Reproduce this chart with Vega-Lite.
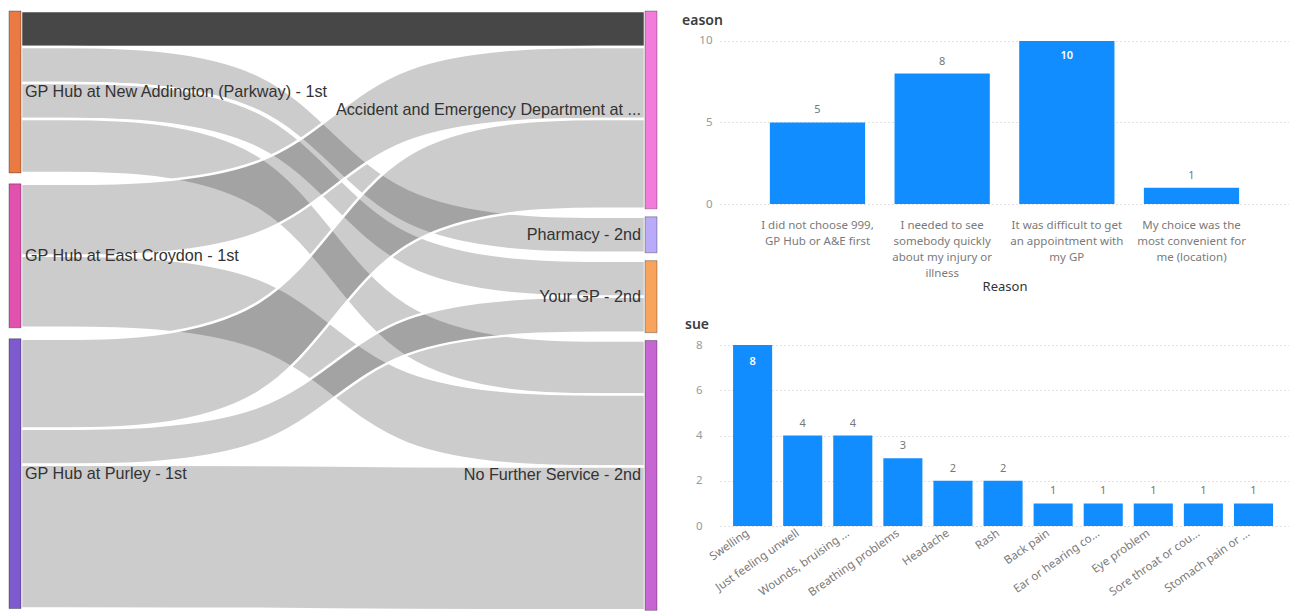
{
  "$schema": "https://vega.github.io/schema/vega-lite/v6.json",
  "padding": {"left": 8, "top": 6, "right": 0, "bottom": 0},
  "background": "white",
  "config": {"view": {"stroke": null}, "font": "Noto Sans"},
  "datasets": {
    "links": [
      {"kind": "link", "source": "GP Hub at New Addington (Parkway) - 1st", "target": "Accident and Emergency Department at ...", "value": 2, "sr": 1, "tr": 1},
      {"kind": "link", "source": "GP Hub at New Addington (Parkway) - 1st", "target": "Pharmacy - 2nd", "value": 2, "sr": 1, "tr": 2},
      {"kind": "link", "source": "GP Hub at New Addington (Parkway) - 1st", "target": "Your GP - 2nd", "value": 2, "sr": 1, "tr": 3},
      {"kind": "link", "source": "GP Hub at New Addington (Parkway) - 1st", "target": "No Further Service - 2nd", "value": 3, "sr": 1, "tr": 4},
      {"kind": "link", "source": "GP Hub at East Croydon - 1st", "target": "Accident and Emergency Department at ...", "value": 4, "sr": 2, "tr": 1},
      {"kind": "link", "source": "GP Hub at East Croydon - 1st", "target": "No Further Service - 2nd", "value": 4, "sr": 2, "tr": 4},
      {"kind": "link", "source": "GP Hub at Purley - 1st", "target": "Accident and Emergency Department at ...", "value": 5, "sr": 3, "tr": 1},
      {"kind": "link", "source": "GP Hub at Purley - 1st", "target": "Your GP - 2nd", "value": 2, "sr": 3, "tr": 3},
      {"kind": "link", "source": "GP Hub at Purley - 1st", "target": "No Further Service - 2nd", "value": 8, "sr": 3, "tr": 4},
      {"kind": "spacer", "source": "", "target": "", "value": 0.61, "sr": 1.5, "tr": 9},
      {"kind": "spacer", "source": "", "target": "", "value": 0.61, "sr": 2.5, "tr": 9},
      {"kind": "spacer", "source": "", "target": "", "value": 0.44, "sr": 9, "tr": 1.5},
      {"kind": "spacer", "source": "", "target": "", "value": 0.44, "sr": 9, "tr": 2.5},
      {"kind": "spacer", "source": "", "target": "", "value": 0.44, "sr": 9, "tr": 3.5}
    ],
    "reasons": [
      {"reason": "I did not choose 999, GP Hub or A&E first", "count": 5},
      {"reason": "I needed to see somebody quickly about my injury or illness", "count": 8},
      {"reason": "It was difficult to get an appointment with my GP", "count": 10},
      {"reason": "My choice was the most convenient for me (location)", "count": 1}
    ],
    "issues": [
      {"issue": "Swelling", "count": 8},
      {"issue": "Just feeling unwell", "count": 4},
      {"issue": "Wounds, bruising ...", "count": 4},
      {"issue": "Breathing problems", "count": 3},
      {"issue": "Headache", "count": 2},
      {"issue": "Rash", "count": 2},
      {"issue": "Back pain", "count": 1},
      {"issue": "Ear or hearing co...", "count": 1},
      {"issue": "Eye problem", "count": 1},
      {"issue": "Sore throat or cou...", "count": 1},
      {"issue": "Stomach pain or ...", "count": 1}
    ]
  },
  "spacing": 24,
  "hconcat": [
    {
      "width": 624,
      "height": 599,
      "data": {"name": "links"},
      "transform": [
        {"stack": "value", "groupby": [], "sort": [{"field": "sr"}, {"field": "tr"}], "as": ["a0", "a1"]},
        {"stack": "value", "groupby": [], "sort": [{"field": "sr"}, {"field": "tr"}], "as": ["b0", "b1"]},
        {"stack": "value", "groupby": [], "sort": [{"field": "tr"}, {"field": "sr"}], "as": ["c0", "c1"]},
        {"stack": "value", "groupby": [], "sort": [{"field": "tr"}, {"field": "sr"}], "as": ["d0", "d1"]},
        {"filter": {"field": "kind", "equal": "link"}}
      ],
      "layer": [
        {
          "transform": [
            {"fold": ["a0", "b0", "c0", "d0"], "as": ["pt", "top"]},
            {"fold": ["top", "value"], "as": ["part", "amt"]},
            {"joinaggregate": [{"op": "sum", "field": "amt", "as": "bottom"}], "groupby": ["source", "target", "pt"]},
            {"filter": {"field": "part", "equal": "top"}}
          ],
          "mark": {"type": "area", "interpolate": "basis", "stroke": "white", "strokeWidth": 2.5},
          "encoding": {
            "x": {"field": "pt", "type": "ordinal", "scale": {"type": "point", "domain": ["a0", "p1", "p2", "b0", "c0", "p3", "p4", "d0"], "padding": 0}, "axis": null},
            "y": {"field": "top", "type": "quantitative", "stack": null, "scale": {"domain": [0, 33.3], "reverse": true, "nice": false, "zero": false}, "axis": null},
            "y2": {"field": "bottom"},
            "detail": [{"field": "source"}, {"field": "target"}],
            "fill": {"condition": {"test": "datum.source === 'GP Hub at New Addington (Parkway) - 1st' && datum.target === 'Accident and Emergency Department at ...'", "value": "#474747"}, "value": "#000000"},
            "fillOpacity": {"condition": {"test": "datum.source === 'GP Hub at New Addington (Parkway) - 1st' && datum.target === 'Accident and Emergency Department at ...'", "value": 1}, "value": 0.2}
          }
        },
        {
          "transform": [
            {"aggregate": [{"op": "min", "field": "a0", "as": "y0"}, {"op": "max", "field": "a1", "as": "y1"}], "groupby": ["source"]}
          ],
          "mark": {"type": "rect", "width": 12, "xOffset": -6, "stroke": "#000000", "strokeOpacity": 0.3, "strokeWidth": 1},
          "encoding": {
            "x": {"datum": "a0", "type": "ordinal", "axis": null},
            "y": {"field": "y0", "type": "quantitative", "axis": null},
            "y2": {"field": "y1"},
            "fill": {"field": "source", "type": "nominal", "legend": null, "scale": {"domain": ["GP Hub at New Addington (Parkway) - 1st", "GP Hub at East Croydon - 1st", "GP Hub at Purley - 1st", "Accident and Emergency Department at ...", "Pharmacy - 2nd", "Your GP - 2nd", "No Further Service - 2nd"], "range": ["#E97A43", "#E052AE", "#7D5BCF", "#F27BDC", "#B9ABFA", "#F9A45C", "#C566D2"]}}
          }
        },
        {
          "transform": [
            {"aggregate": [{"op": "min", "field": "d0", "as": "y0"}, {"op": "max", "field": "d1", "as": "y1"}], "groupby": ["target"]}
          ],
          "mark": {"type": "rect", "width": 12, "xOffset": 6, "stroke": "#000000", "strokeOpacity": 0.3, "strokeWidth": 1},
          "encoding": {
            "x": {"datum": "d0", "type": "ordinal", "axis": null},
            "y": {"field": "y0", "type": "quantitative", "axis": null},
            "y2": {"field": "y1"},
            "fill": {"field": "target", "type": "nominal", "legend": null, "scale": {"domain": ["GP Hub at New Addington (Parkway) - 1st", "GP Hub at East Croydon - 1st", "GP Hub at Purley - 1st", "Accident and Emergency Department at ...", "Pharmacy - 2nd", "Your GP - 2nd", "No Further Service - 2nd"], "range": ["#E97A43", "#E052AE", "#7D5BCF", "#F27BDC", "#B9ABFA", "#F9A45C", "#C566D2"]}}
          }
        },
        {
          "transform": [
            {"aggregate": [{"op": "min", "field": "a0", "as": "y0"}, {"op": "max", "field": "a1", "as": "y1"}], "groupby": ["source"]},
            {"fold": ["y0", "y1"], "as": ["edge", "yy"]},
            {"aggregate": [{"op": "mean", "field": "yy", "as": "mid"}], "groupby": ["source"]}
          ],
          "mark": {"type": "text", "align": "left", "baseline": "middle", "dx": 4, "font": "Liberation Sans", "fontSize": 16.2, "color": "#333333"},
          "encoding": {
            "x": {"datum": "a0", "type": "ordinal", "axis": null},
            "y": {"field": "mid", "type": "quantitative", "axis": null},
            "text": {"field": "source"}
          }
        },
        {
          "transform": [
            {"aggregate": [{"op": "min", "field": "d0", "as": "y0"}, {"op": "max", "field": "d1", "as": "y1"}], "groupby": ["target"]},
            {"fold": ["y0", "y1"], "as": ["edge", "yy"]},
            {"aggregate": [{"op": "mean", "field": "yy", "as": "mid"}], "groupby": ["target"]}
          ],
          "mark": {"type": "text", "align": "right", "baseline": "middle", "dx": -4, "font": "Liberation Sans", "fontSize": 16.2, "color": "#333333"},
          "encoding": {
            "x": {"datum": "d0", "type": "ordinal", "axis": null},
            "y": {"field": "mid", "type": "quantitative", "axis": null},
            "text": {"field": "target"}
          }
        }
      ]
    },
    {
      "spacing": 24,
      "vconcat": [
        {
          "width": 569,
          "height": 193,
          "data": {"name": "reasons"},
          "title": {"text": "eason", "anchor": "start", "frame": "group", "dx": -38, "offset": -17, "fontSize": 14, "fontWeight": 600, "color": "#3c3c3c", "font": "Noto Sans"},
          "encoding": {
            "x": {
              "field": "reason", "type": "nominal", "sort": null,
              "scale": {"paddingInner": 0.236, "paddingOuter": 0.4},
              "axis": {
                "title": "Reason", "titleFontSize": 13, "titleFontWeight": "normal", "titleColor": "#333333", "titleFont": "Noto Sans", "titlePadding": 2,
                "labelAngle": 0, "labelColor": "#7a7a7a", "labelFontSize": 11.5, "labelFont": "Noto Sans", "labelLineHeight": 16, "labelPadding": 15, "labelBaseline": "top", "labelLimit": 0,
                "labelExpr": "datum.value == 'I did not choose 999, GP Hub or A&E first' ? ['I did not choose 999,', 'GP Hub or A&E first'] : datum.value == 'I needed to see somebody quickly about my injury or illness' ? ['I needed to see', 'somebody quickly', 'about my injury or', 'illness'] : datum.value == 'It was difficult to get an appointment with my GP' ? ['It was difficult to get', 'an appointment with', 'my GP'] : ['My choice was the', 'most convenient for', 'me (location)']",
                "domain": false, "ticks": false
              }
            },
            "y": {
              "field": "count", "type": "quantitative",
              "scale": {"domain": [0, 11.84], "nice": false},
              "axis": {"title": null, "values": [0, 5, 10], "grid": true, "gridDash": [1, 3], "gridColor": "#c4c4c4", "domain": false, "ticks": false, "labelColor": "#999999", "labelFontSize": 11.5, "labelFont": "Noto Sans", "labelPadding": 8}
            }
          },
          "layer": [
            {"mark": {"type": "bar", "color": "#118DFF"}},
            {
              "transform": [{"joinaggregate": [{"op": "max", "field": "count", "as": "maxc"}]}, {"filter": "datum.count < datum.maxc"}],
              "mark": {"type": "text", "baseline": "middle", "dy": -12, "fontSize": 11, "color": "#777777", "font": "Noto Sans"},
              "encoding": {"text": {"field": "count", "type": "quantitative"}}
            },
            {
              "transform": [{"joinaggregate": [{"op": "max", "field": "count", "as": "maxc"}]}, {"filter": "datum.count == datum.maxc"}],
              "mark": {"type": "text", "baseline": "middle", "dy": 15, "fontSize": 11, "fontWeight": 600, "color": "white", "font": "Noto Sans"},
              "encoding": {"text": {"field": "count", "type": "quantitative"}}
            }
          ]
        },
        {
          "width": 569,
          "height": 181,
          "data": {"name": "issues"},
          "title": {"text": "sue", "anchor": "start", "frame": "group", "dx": -35, "offset": 7, "fontSize": 14, "fontWeight": 600, "color": "#3c3c3c", "font": "Noto Sans"},
          "encoding": {
            "x": {
              "field": "issue", "type": "nominal", "sort": null,
              "scale": {"paddingInner": 0.22, "paddingOuter": 0.29, "align": 0.45},
              "axis": {"title": null, "labelAngle": -35, "labelAlign": "right", "labelBaseline": "top", "labelPadding": 1, "labelOffset": -8, "labelColor": "#7a7a7a", "labelFontSize": 11.5, "labelFont": "Noto Sans", "labelLimit": 0, "domain": false, "ticks": false}
            },
            "y": {
              "field": "count", "type": "quantitative",
              "scale": {"domain": [0, 8], "nice": false},
              "axis": {"title": null, "values": [0, 2, 4, 6, 8], "grid": true, "gridDash": [1, 3], "gridColor": "#c4c4c4", "domain": false, "ticks": false, "labelColor": "#999999", "labelFontSize": 11.5, "labelFont": "Noto Sans", "labelPadding": 18}
            }
          },
          "layer": [
            {"mark": {"type": "bar", "color": "#118DFF"}},
            {
              "transform": [{"joinaggregate": [{"op": "max", "field": "count", "as": "maxc"}]}, {"filter": "datum.count < datum.maxc"}],
              "mark": {"type": "text", "baseline": "middle", "dy": -12, "fontSize": 11, "color": "#777777", "font": "Noto Sans"},
              "encoding": {"text": {"field": "count", "type": "quantitative"}}
            },
            {
              "transform": [{"joinaggregate": [{"op": "max", "field": "count", "as": "maxc"}]}, {"filter": "datum.count == datum.maxc"}],
              "mark": {"type": "text", "baseline": "middle", "dy": 17, "fontSize": 11, "fontWeight": 600, "color": "white", "font": "Noto Sans"},
              "encoding": {"text": {"field": "count", "type": "quantitative"}}
            }
          ]
        }
      ]
    }
  ]
}
